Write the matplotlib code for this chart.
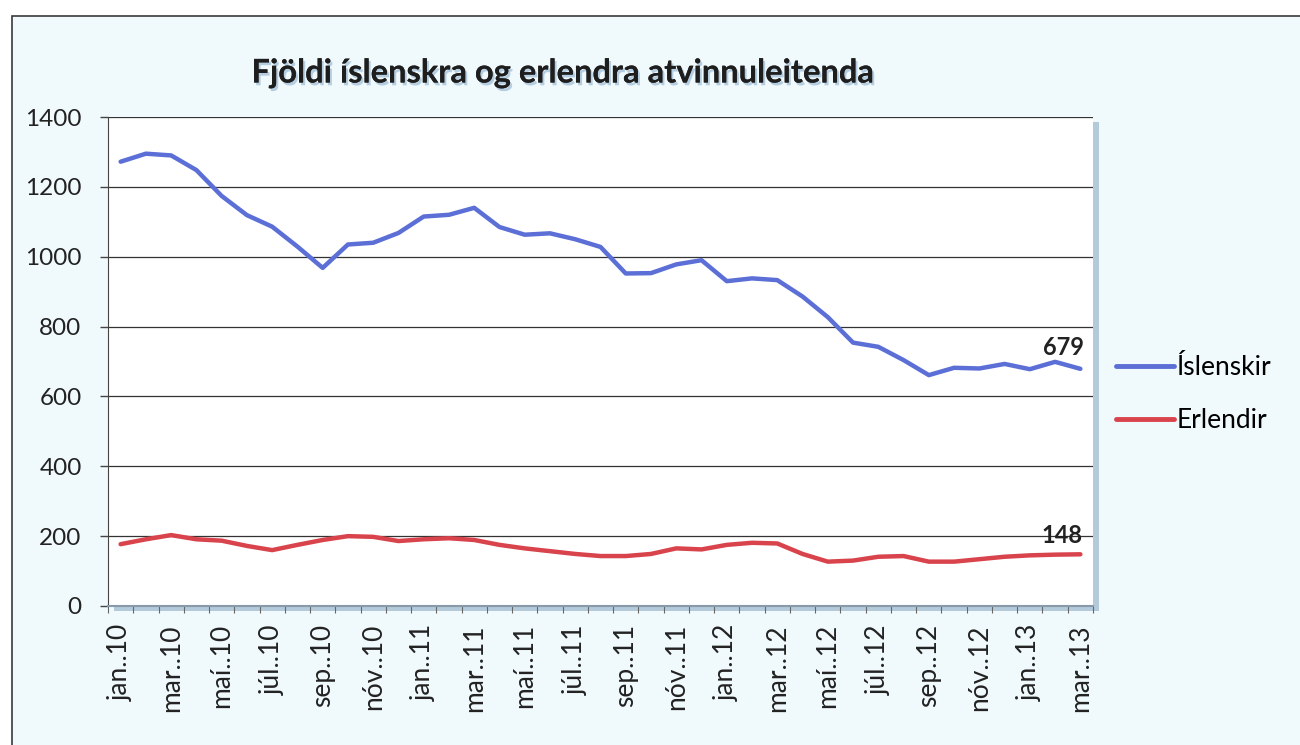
import matplotlib
matplotlib.use("Agg")
import matplotlib.pyplot as plt
import matplotlib.patheffects as pe
from matplotlib.patches import Rectangle
import numpy as np

months = ["jan..10", "feb..10", "mar..10", "apr..10", "maí..10", "jún..10", "júl..10", "ágú..10",
          "sep..10", "okt..10", "nóv..10", "des..10",
          "jan..11", "feb..11", "mar..11", "apr..11", "maí..11", "jún..11", "júl..11", "ágú..11",
          "sep..11", "okt..11", "nóv..11", "des..11",
          "jan..12", "feb..12", "mar..12", "apr..12", "maí..12", "jún..12", "júl..12", "ágú..12",
          "sep..12", "okt..12", "nóv..12", "des..12",
          "jan..13", "feb..13", "mar..13"]

islenskir = [1272, 1295, 1290, 1248, 1174, 1119, 1086, 1029, 968, 1035, 1040, 1068,
             1115, 1120, 1140, 1085, 1063, 1067, 1050, 1028, 952, 953, 978, 990,
             930, 938, 933, 886, 827, 754, 742, 704, 661, 682, 680, 693,
             678, 699, 679]

erlendir = [177, 191, 203, 191, 187, 172, 160, 175, 189, 200, 198, 186,
            191, 194, 189, 175, 165, 157, 149, 143, 143, 149, 165, 162,
            175, 181, 179, 149, 127, 130, 141, 143, 127, 127, 134, 141,
            145, 147, 148]

title = "Fjöldi íslenskra og erlendra atvinnuleitenda"
yticks = [0, 200, 400, 600, 800, 1000, 1200, 1400]

W, H = 1300, 745
fig = plt.figure(figsize=(W / 100, H / 100), dpi=100)
fig.patch.set_facecolor("white")

FONT = "Lato"

# outer chart area
fig.patches.append(Rectangle((12 / W, -0.1), 1.2, 1.1 - 16 / H, transform=fig.transFigure,
                             facecolor="#f0f9fc", edgecolor="#3a3a3a", lw=1.2, zorder=0))

L, R, T, B = 108, 1093, 117, 606
ax = fig.add_axes([L / W, 1 - B / H, (R - L) / W, (B - T) / H])

# shadow of the plot area
fig.patches.append(Rectangle(((L + 6) / W, 1 - (B + 5) / H), (R - L) / W, (B - T) / H,
                             transform=fig.transFigure, facecolor="#b3cadb",
                             edgecolor="none", zorder=0.5))
ax.set_zorder(1)
ax.set_facecolor("white")

x = np.arange(len(months))
ax.plot(x, islenskir, color="#5b6fd6", lw=3.2, solid_joinstyle="round",
        solid_capstyle="round", label="Íslenskir", zorder=3)
ax.plot(x, erlendir, color="#d9434c", lw=3.2, solid_joinstyle="round",
        solid_capstyle="round", label="Erlendir", zorder=3)

ax.set_xlim(-0.5, len(months) - 0.5)
ax.set_ylim(0, 1400)

ax.set_yticks(yticks)
ax.set_yticklabels([str(v) for v in yticks], fontsize=17.5, family=FONT, color="#222")
ax.yaxis.grid(True, color="#333", lw=0.9)
ax.set_axisbelow(True)
ax.tick_params(axis="y", length=6, width=1, color="#444", pad=13)

ax.set_xticks(x[::2])
ax.set_xticklabels(months[::2], rotation=90, fontsize=19, family=FONT, color="#222")
ax.set_xticks(np.arange(-0.5, len(months), 1), minor=True)
ax.tick_params(axis="x", which="major", length=0, pad=13)
ax.tick_params(axis="x", which="minor", length=5, width=0.8, color="#666")

for s in ["top", "right"]:
    ax.spines[s].set_visible(False)
ax.spines["left"].set_color("#444")
ax.spines["bottom"].set_color("#8899aa")
ax.spines["bottom"].set_linewidth(1.5)

# data labels on last points
ax.annotate(str(islenskir[-1]), (x[-1], islenskir[-1]), xytext=(-12, 7),
            textcoords="offset points", ha="center", va="bottom",
            fontsize=17, fontweight="bold", family=FONT, color="#222")
ax.annotate(str(erlendir[-1]), (x[-1], erlendir[-1]), xytext=(-13, 5),
            textcoords="offset points", ha="center", va="bottom",
            fontsize=17, fontweight="bold", family=FONT, color="#222")

# legend
leg = ax.legend(loc="center left", bbox_to_anchor=(1105 / W, 1 - 394 / H),
                bbox_transform=fig.transFigure, frameon=False,
                prop={"family": FONT, "size": 19}, handlelength=2.2,
                handletextpad=0.1, labelspacing=1.05, borderaxespad=0)
for h in leg.get_lines():
    h.set_linewidth(3.5)

fig.text(562 / W, 1 - 73 / H, title, ha="center", va="center", fontsize=23.5,
         fontweight="bold", family=FONT, color="#1e1e1e",
         path_effects=[pe.withSimplePatchShadow(offset=(1.5, -2), shadow_rgbFace="#8fb0d0", alpha=0.6),
                       pe.Normal()])

fig.savefig("out.png", dpi=100)
